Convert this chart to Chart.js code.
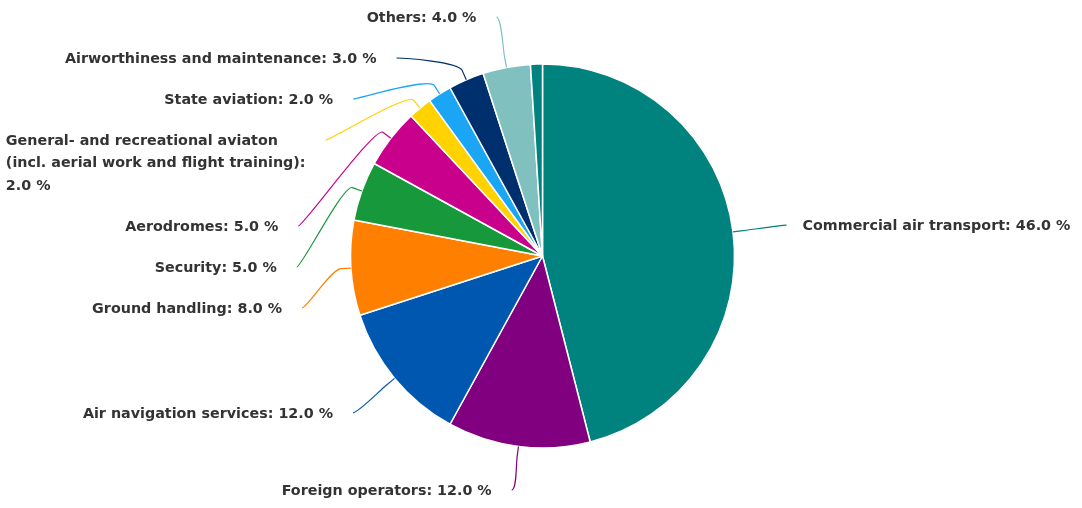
<!DOCTYPE html>
<html>
<head>
<meta charset="utf-8">
<script src="https://cdn.jsdelivr.net/npm/chart.js@4.4.1/dist/chart.umd.min.js"></script>
<style>
    body { margin: 0; background: #fff; }
    #wrap { width: 1082px; height: 508px; position: relative; }
</style>
</head>
<body>
<div id="wrap"><canvas id="pieChart"></canvas></div>
<script>
// data (the last 1 % slice has no label in the original)
var categories = [
    'Commercial air transport',
    'Foreign operators',
    'Air navigation services',
    'Ground handling',
    'Security',
    'Aerodromes',
    'General- and recreational aviaton (incl. aerial work and flight training)',
    'State aviation',
    'Airworthiness and maintenance',
    'Others',
    ''
];
var shares = [46, 12, 12, 8, 5, 5, 2, 2, 3, 4, 1];
var sliceColors = ['#00827f', '#800080', '#0057b0', '#ff8000', '#17983b', '#c8008c',
                   '#ffd200', '#1aa6f5', '#002f6e', '#80c1c0', '#00827f'];

var FONT = 'bold 14.3px "DejaVu Sans"';
var LABEL_DIST = 54;   // label circle = radius + this
var CROOK = 10;        // radial bit of the connector
var GAP_LEFT = 20, GAP_RIGHT = 16;
var LINE_H = 22.5, BOX_H = 41, BOX_TOP = 17;

function wrapText(ctx, text, maxW) {
    var words = text.split(' ');
    var lines = [];
    var cur = '';
    for (var i = 0; i < words.length; i++) {
        var test = cur ? cur + ' ' + words[i] : words[i];
        if (cur && ctx.measureText(test).width > maxW) {
            lines.push(cur);
            cur = words[i];
        } else {
            cur = test;
        }
    }
    if (cur) lines.push(cur);
    return lines;
}

// push overlapping label boxes apart, roughly like highcharts does
function distribute(list, len) {
    var boxes = list.map(function (it) {
        return { members: [it], size: it.h, targets: [it.natY - BOX_TOP + it.h / 2] };
    });
    var overlap = true;
    while (overlap) {
        boxes.forEach(function (b) {
            var mid = (Math.min.apply(0, b.targets) + Math.max.apply(0, b.targets)) / 2;
            b.pos = Math.min(Math.max(mid - b.size / 2, 0), len - b.size);
        });
        overlap = false;
        for (var i = boxes.length - 1; i > 0; i--) {
            if (boxes[i - 1].pos + boxes[i - 1].size > boxes[i].pos + 0.01) {
                boxes[i - 1].size += boxes[i].size;
                boxes[i - 1].targets = boxes[i - 1].targets.concat(boxes[i].targets);
                boxes[i - 1].members = boxes[i - 1].members.concat(boxes[i].members);
                boxes.splice(i, 1);
                overlap = true;
            }
        }
    }
    boxes.forEach(function (b) {
        var p = b.pos;
        b.members.forEach(function (m) { m.pos = p; p += m.h; });
    });
}

function getX(it, y) {
    var dy = Math.max(-it.R, Math.min(it.R, y - it.cy));
    var dx = Math.sqrt(it.R * it.R - dy * dy);
    return it.left ? it.cx - dx : it.cx + dx;
}

var pieLabels = {
    id: 'pieLabels',
    afterDatasetsDraw: function (chart) {
        var ctx = chart.ctx;
        var arcs = chart.getDatasetMeta(0).data;
        var len = chart.height + 6;
        ctx.save();
        ctx.font = FONT;

        var items = [];
        arcs.forEach(function (arc, i) {
            if (!categories[i]) return;
            var p = arc.getProps(['x', 'y', 'startAngle', 'endAngle', 'outerRadius'], true);
            var a = (p.startAngle + p.endAngle) / 2;
            var R = p.outerRadius + LABEL_DIST;
            items.push({
                i: i, cx: p.x, cy: p.y, r: p.outerRadius, a: a, R: R,
                left: Math.cos(a) < 0,
                natY: p.y + Math.sin(a) * R,
                text: categories[i] + ': ' + shares[i].toFixed(1) + ' %'
            });
        });

        function rewrap(it) {
            var avail = it.left ? it.x - GAP_LEFT : chart.width - it.x - GAP_RIGHT;
            var lines = wrapText(ctx, it.text, avail);
            var changed = !it.lines || it.lines.length !== lines.length;
            it.lines = lines;
            it.h = BOX_H + (lines.length - 1) * LINE_H;
            return changed;
        }

        items.forEach(function (it) { it.x = getX(it, it.natY); rewrap(it); });

        for (var pass = 0; pass < 5; pass++) {
            [true, false].forEach(function (side) {
                var s = items.filter(function (it) { return it.left === side; })
                             .sort(function (a, b) { return a.natY - b.natY; });
                distribute(s, len);
            });
            var changed = false;
            items.forEach(function (it) {
                it.y = it.pos + BOX_TOP;
                var edge = it.pos <= 0.5 || it.pos + it.h >= len - 0.5;
                it.x = getX(it, edge ? it.natY : it.y);
                if (rewrap(it)) changed = true;
            });
            if (!changed) break;
        }

        items.forEach(function (it) {
            var tx = it.cx + Math.cos(it.a) * it.r, ty = it.cy + Math.sin(it.a) * it.r;
            var bx = it.cx + Math.cos(it.a) * (it.r + CROOK), by = it.cy + Math.sin(it.a) * (it.r + CROOK);
            ctx.strokeStyle = sliceColors[it.i];
            ctx.lineWidth = 1.2;
            ctx.beginPath();
            ctx.moveTo(it.x, it.y);
            ctx.bezierCurveTo(it.x + (it.left ? 5 : -5), it.y, 2 * bx - tx, 2 * by - ty, bx, by);
            ctx.lineTo(tx, ty);
            ctx.stroke();

            var maxW = 0;
            it.lines.forEach(function (l) { maxW = Math.max(maxW, ctx.measureText(l).width); });
            var x0 = it.left ? it.x - GAP_LEFT - maxW : it.x + GAP_RIGHT;
            ctx.fillStyle = '#333333';
            ctx.textAlign = 'left';
            ctx.textBaseline = 'middle';
            it.lines.forEach(function (l, k) {
                ctx.fillText(l, x0, it.y + 1 + k * LINE_H);
            });
        });
        ctx.restore();
    }
};

var chart = new Chart(document.getElementById('pieChart'), {
    type: 'pie',
    data: {
        labels: categories,
        datasets: [{
            data: shares,
            backgroundColor: sliceColors,
            borderColor: '#ffffff',
            borderWidth: 1.5,
            radius: 192
        }]
    },
    options: {
        responsive: true,
        maintainAspectRatio: false,
        animation: false,
        layout: { padding: { left: 340, right: 337, top: 54, bottom: 50 } },
        plugins: {
            legend: { display: false },
            tooltip: { enabled: false }
        }
    },
    plugins: [pieLabels]
});
</script>
</body>
</html>
